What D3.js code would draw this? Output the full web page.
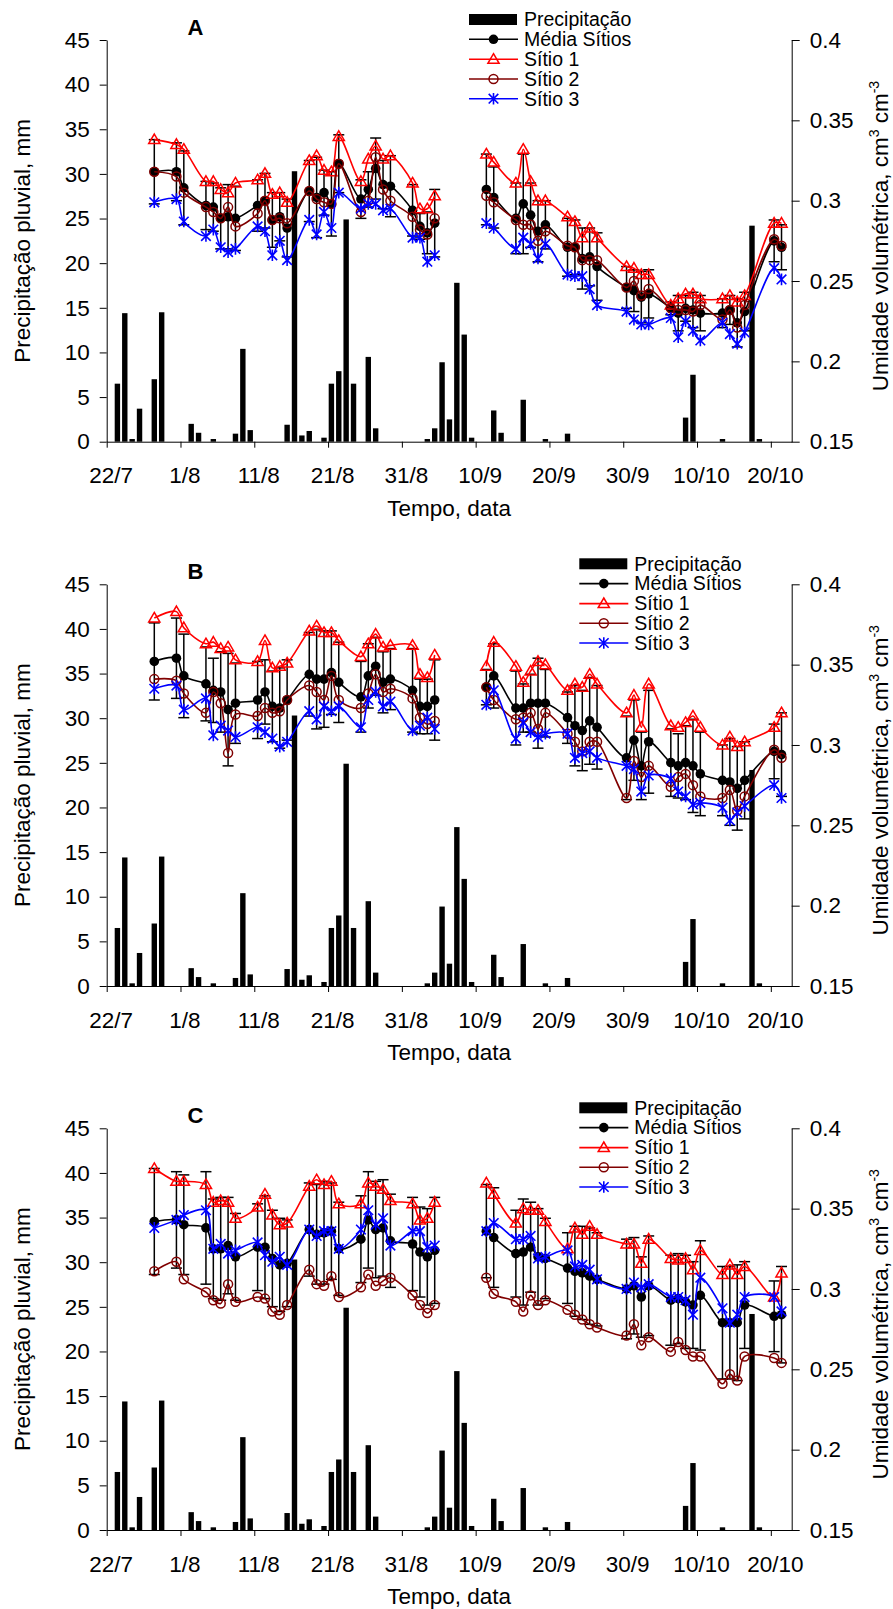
<!DOCTYPE html>
<html><head><meta charset="utf-8">
<script src="https://cdn.jsdelivr.net/npm/d3@7"></script>
<style>
body{margin:0;background:#fff}
svg{display:block}
text{font-family:"Liberation Sans",Arial,sans-serif;fill:#000}
</style>
</head><body>
<svg id="chart" width="893" height="1609"></svg>
<script>
// ---------------- DATA ----------------
const xTickLabels = ["22/7","1/8","11/8","21/8","31/8","10/9","20/9","30/9","10/10","20/10"];
const leftTicks = [0,5,10,15,20,25,30,35,40,45];
const rightTicks = [0.15,0.2,0.25,0.3,0.35,0.4];
const panelLetters = ["A","B","C"];
const legendLabels = ["Precipitação","Média Sítios","Sítio 1","Sítio 2","Sítio 3"];

const precipDates = ["23/7","24/7","25/7","26/7","28/7","29/7","2/8","3/8","5/8","8/8","9/8","10/8","15/8","16/8","17/8","18/8","20/8","21/8","22/8","23/8","24/8","26/8","27/8","3/9","4/9","5/9","6/9","7/9","8/9","9/9","12/9","13/9","16/9","19/9","22/9","8/10","9/10","13/10","17/10","18/10"];
const precipValues = [6.5,14.4,0.3,3.7,7.0,14.5,2.0,1.0,0.3,0.9,10.4,1.3,1.9,30.3,0.7,1.2,0.45,6.5,7.9,24.9,6.5,9.5,1.5,0.3,1.5,8.9,2.5,17.8,12.0,0.45,3.5,1.0,4.7,0.3,0.9,2.7,7.5,0.3,24.2,0.3];

const measDates = ["28/7","31/7","1/8","4/8","5/8","6/8","7/8","8/8","11/8","12/8","13/8","14/8","15/8","18/8","19/8","20/8","21/8","22/8","25/8","26/8","27/8","28/8","29/8","1/9","2/9","3/9","4/9",
"11/9","12/9","15/9","16/9","17/9","18/9","19/9","22/9","23/9","24/9","25/9","26/9","30/9","1/10","2/10","3/10","6/10","7/10","8/10","9/10","10/10","13/10","14/10","15/10","16/10","20/10","21/10"];

// Panel A
const mediaA = [0.318,0.318,0.308,0.297,0.296,0.289,0.290,0.289,0.297,0.300,0.288,0.290,0.283,0.306,0.302,0.305,0.298,0.323,0.301,0.307,0.320,0.310,0.309,0.294,0.284,0.280,0.286,
0.307,0.302,0.289,0.298,0.291,0.281,0.285,0.271,0.271,0.264,0.265,0.259,0.246,0.244,0.240,0.242,0.233,0.230,0.233,0.232,0.230,0.230,0.232,0.224,0.231,0.275,0.271];
const sdA = [0.020,0.018,0.023,0.015,0.015,0.019,0.020,0.020,0.016,0.017,0.017,0.015,0.018,0.019,0.025,0.014,0.020,0.018,0.012,0.011,0.019,0.015,0.019,0.016,0.008,0.013,0.021,
0.022,0.019,0.022,0.031,0.020,0.019,0.015,0.018,0.017,0.019,0.018,0.021,0.013,0.013,0.016,0.015,0.004,0.011,0.008,0.011,0.011,0.009,0.009,0.015,0.012,0.013,0.014];
const sitio1A = [0.338,0.335,0.332,0.312,0.312,0.307,0.305,0.311,0.313,0.317,0.304,0.305,0.299,0.325,0.328,0.319,0.318,0.340,0.312,0.326,0.334,0.326,0.328,0.311,0.295,0.295,0.303,
0.329,0.324,0.311,0.332,0.312,0.300,0.300,0.290,0.287,0.277,0.283,0.277,0.259,0.258,0.254,0.254,0.235,0.239,0.242,0.242,0.239,0.239,0.241,0.237,0.241,0.286,0.286];
const sitio2A = [0.318,0.315,0.305,0.296,0.293,0.289,0.296,0.284,0.292,0.300,0.288,0.289,0.286,0.306,0.301,0.299,0.298,0.323,0.293,0.300,0.327,0.307,0.300,0.290,0.282,0.279,0.289,
0.303,0.299,0.288,0.285,0.285,0.275,0.281,0.272,0.271,0.263,0.263,0.263,0.246,0.250,0.241,0.245,0.233,0.232,0.232,0.231,0.235,0.226,0.232,0.221,0.235,0.276,0.272];
const sitio3A = [0.299,0.301,0.287,0.278,0.282,0.271,0.268,0.270,0.284,0.281,0.266,0.275,0.263,0.288,0.279,0.293,0.283,0.305,0.295,0.298,0.298,0.294,0.295,0.277,0.277,0.262,0.266,
0.286,0.283,0.270,0.277,0.273,0.264,0.273,0.254,0.253,0.253,0.245,0.235,0.231,0.226,0.223,0.223,0.227,0.215,0.225,0.219,0.213,0.224,0.217,0.211,0.218,0.258,0.251];

// Panel B
const mediaB = [0.352,0.354,0.343,0.338,0.334,0.333,0.322,0.326,0.328,0.333,0.324,0.323,0.328,0.344,0.341,0.341,0.345,0.339,0.330,0.343,0.349,0.339,0.341,0.334,0.324,0.324,0.328,
0.336,0.343,0.323,0.323,0.326,0.326,0.326,0.317,0.312,0.309,0.315,0.311,0.292,0.303,0.287,0.302,0.289,0.287,0.289,0.287,0.282,0.278,0.277,0.273,0.278,0.296,0.294];
const sdB = [0.024,0.025,0.026,0.023,0.020,0.025,0.035,0.025,0.024,0.020,0.022,0.025,0.025,0.026,0.031,0.030,0.026,0.025,0.022,0.020,0.018,0.019,0.019,0.026,0.017,0.017,0.025,
0.011,0.020,0.023,0.015,0.018,0.028,0.021,0.016,0.025,0.025,0.027,0.026,0.026,0.025,0.021,0.032,0.021,0.020,0.023,0.029,0.026,0.022,0.027,0.026,0.024,0.017,0.026];
const sitio1B = [0.379,0.383,0.373,0.363,0.364,0.360,0.361,0.353,0.352,0.365,0.348,0.349,0.351,0.371,0.374,0.370,0.370,0.365,0.355,0.363,0.369,0.361,0.362,0.362,0.344,0.342,0.356,
0.349,0.364,0.349,0.339,0.346,0.352,0.350,0.334,0.338,0.336,0.344,0.338,0.320,0.331,0.311,0.338,0.312,0.311,0.314,0.318,0.311,0.300,0.305,0.299,0.302,0.311,0.320];
const sitio2B = [0.341,0.340,0.332,0.320,0.333,0.326,0.295,0.319,0.318,0.323,0.320,0.321,0.328,0.337,0.333,0.328,0.343,0.328,0.323,0.332,0.344,0.333,0.335,0.329,0.317,0.313,0.315,
0.336,0.328,0.316,0.317,0.320,0.310,0.320,0.307,0.302,0.296,0.302,0.302,0.267,0.290,0.280,0.287,0.274,0.280,0.282,0.275,0.268,0.267,0.272,0.259,0.268,0.297,0.292];
const sitio3B = [0.335,0.337,0.322,0.329,0.306,0.312,0.309,0.305,0.311,0.308,0.304,0.299,0.302,0.321,0.316,0.324,0.321,0.324,0.311,0.328,0.333,0.324,0.327,0.309,0.312,0.317,0.310,
0.325,0.334,0.304,0.314,0.308,0.305,0.307,0.307,0.292,0.295,0.296,0.292,0.287,0.285,0.271,0.281,0.279,0.271,0.268,0.263,0.264,0.261,0.253,0.258,0.262,0.275,0.267];

// Panel C
const mediaC = [0.342,0.343,0.340,0.338,0.325,0.325,0.327,0.320,0.326,0.326,0.319,0.315,0.316,0.337,0.334,0.335,0.336,0.325,0.331,0.343,0.337,0.338,0.330,0.328,0.323,0.320,0.324,
0.336,0.332,0.322,0.323,0.326,0.320,0.319,0.313,0.311,0.310,0.308,0.306,0.300,0.302,0.295,0.302,0.293,0.294,0.292,0.290,0.296,0.279,0.279,0.279,0.290,0.283,0.284];
const sdC = [0.033,0.030,0.031,0.035,0.031,0.032,0.030,0.027,0.027,0.032,0.030,0.029,0.027,0.029,0.031,0.032,0.030,0.029,0.027,0.030,0.030,0.030,0.029,0.029,0.028,0.030,0.033,
0.029,0.031,0.027,0.033,0.028,0.030,0.025,0.022,0.028,0.029,0.030,0.029,0.031,0.030,0.025,0.031,0.028,0.028,0.029,0.027,0.034,0.035,0.035,0.036,0.027,0.022,0.030];
const sitio1C = [0.375,0.367,0.367,0.365,0.354,0.355,0.354,0.344,0.351,0.359,0.346,0.340,0.341,0.364,0.368,0.365,0.367,0.353,0.353,0.366,0.364,0.362,0.355,0.353,0.343,0.344,0.354,
0.366,0.359,0.341,0.350,0.349,0.349,0.342,0.325,0.338,0.334,0.339,0.334,0.328,0.328,0.316,0.331,0.319,0.318,0.319,0.312,0.324,0.309,0.315,0.309,0.314,0.295,0.310];
const sitio2C = [0.311,0.317,0.306,0.298,0.293,0.291,0.303,0.292,0.295,0.294,0.286,0.284,0.290,0.312,0.303,0.302,0.308,0.295,0.301,0.309,0.302,0.305,0.307,0.296,0.290,0.285,0.290,
0.307,0.297,0.292,0.286,0.296,0.290,0.293,0.287,0.284,0.281,0.278,0.276,0.271,0.278,0.265,0.270,0.261,0.267,0.262,0.258,0.258,0.241,0.247,0.243,0.258,0.257,0.254];
const sitio3C = [0.338,0.343,0.346,0.349,0.325,0.328,0.322,0.324,0.329,0.321,0.317,0.320,0.315,0.337,0.333,0.336,0.336,0.325,0.337,0.349,0.340,0.344,0.327,0.336,0.336,0.326,0.327,
0.336,0.341,0.331,0.331,0.333,0.319,0.320,0.324,0.314,0.315,0.312,0.306,0.300,0.304,0.301,0.303,0.295,0.295,0.293,0.284,0.307,0.288,0.279,0.284,0.295,0.295,0.286];

// ---------------- HELPERS ----------------
const parseDM = s => { const [d, m] = s.split("/").map(Number); return new Date(2009, m - 1, d); };
const startDate = parseDM("22/7");
const dayOf = s => d3.timeDay.count(startDate, parseDM(s));
const OFF = 0.45;  // date-axis centring of columns and points

const svg = d3.select("#chart");
const FONT = '"Liberation Sans", Arial, sans-serif';
const PLOT_L = 106.7, PLOT_R = 791.7, PLOT_H = 401.7;
const x = d3.scaleLinear().domain([0, 92.83]).range([PLOT_L, PLOT_R]);

const COLORS = {media: "#000000", s1: "#FF0000", s2: "#800000", s3: "#0000FF"};

const precip = precipDates.map((d, i) => ({day: dayOf(d), v: precipValues[i]}));
const tickDays = xTickLabels.map(dayOf);

const panels = [
  {top: 40,    legendX: 469,   media: mediaA, sd: sdA, s1: sitio1A, s2: sitio2A, s3: sitio3A},
  {top: 584.3, legendX: 579.3, media: mediaB, sd: sdB, s1: sitio1B, s2: sitio2B, s3: sitio3B},
  {top: 1128.3,legendX: 579.3, media: mediaC, sd: sdC, s1: sitio1C, s2: sitio2C, s3: sitio3C}
];

function segments(vals) {
  const pts = measDates.map((d, i) => ({day: dayOf(d), v: vals[i]}));
  const segs = [[]];
  pts.forEach((p, i) => {
    if (i > 0 && p.day - pts[i - 1].day > 5) segs.push([]);
    segs[segs.length - 1].push(p);
  });
  return segs;
}

function drawMarker(g, type, cx, cy) {
  if (type === "media") {
    g.append("circle").attr("cx", cx).attr("cy", cy).attr("r", 4.8).attr("fill", COLORS.media);
  } else if (type === "s1") {
    g.append("path").attr("d", `M${cx},${cy-5.6}L${cx+5.6},${cy+4}L${cx-5.6},${cy+4}Z`)
      .attr("fill", "none").attr("stroke", COLORS.s1).attr("stroke-width", 1.5);
  } else if (type === "s2") {
    g.append("circle").attr("cx", cx).attr("cy", cy).attr("r", 4.5)
      .attr("fill", "none").attr("stroke", COLORS.s2).attr("stroke-width", 1.5);
  } else {
    g.append("path").attr("d", `M${cx},${cy-5.8}L${cx},${cy+5.8}M${cx-4.8},${cy-4.8}L${cx+4.8},${cy+4.8}M${cx-4.8},${cy+4.8}L${cx+4.8},${cy-4.8}`)
      .attr("fill", "none").attr("stroke", COLORS.s3).attr("stroke-width", 1.6);
  }
}

panels.forEach((p, pi) => {
  const top = p.top, bottom = top + PLOT_H;
  const yL = d3.scaleLinear().domain([0, 45]).range([bottom, top]);
  const yR = d3.scaleLinear().domain([0.15, 0.4]).range([bottom, top]);
  const g = svg.append("g");

  // columns
  g.append("g").selectAll("rect").data(precip).join("rect")
    .attr("x", d => x(d.day + OFF) - 2.7).attr("width", 5.4)
    .attr("y", d => yL(d.v)).attr("height", d => yL(0) - yL(d.v))
    .attr("fill", "#000");

  // axes
  const axL = g.append("g").attr("transform", `translate(${PLOT_L},0)`)
    .call(d3.axisLeft(yL).tickValues(leftTicks).tickSize(7).tickSizeOuter(0).tickPadding(10));
  const axR = g.append("g").attr("transform", `translate(${PLOT_R},0)`)
    .call(d3.axisRight(yR).tickValues(rightTicks).tickFormat(d => String(d)).tickSize(8).tickSizeOuter(0).tickPadding(10));
  const axB = g.append("g").attr("transform", `translate(0,${bottom})`)
    .call(d3.axisBottom(x).tickValues(tickDays).tickFormat((d, i) => xTickLabels[i]).tickSize(6).tickSizeOuter(0));
  [axL, axR, axB].forEach(a => {
    a.attr("font-family", FONT).attr("font-size", 22.5);
    a.selectAll("path.domain").attr("stroke", "#000").attr("stroke-width", 1);
    a.selectAll(".tick line").attr("stroke", "#000").attr("stroke-width", 1);
    a.selectAll("text").attr("fill", "#000");
  });
  axB.selectAll("text").attr("y", 41.6).attr("dy", 0).attr("dx", 4);

  // axis titles
  g.append("text").attr("x", (PLOT_L + PLOT_R) / 2).attr("y", bottom + 74.3)
    .attr("text-anchor", "middle").attr("font-size", 22.5).text("Tempo, data");
  g.append("text").attr("transform", `translate(30,${(top + bottom) / 2}) rotate(-90)`)
    .attr("text-anchor", "middle").attr("font-size", 22.5).text("Precipitação pluvial, mm");
  const rt = g.append("text").attr("transform", `translate(888,${top + 196}) rotate(-90)`)
    .attr("text-anchor", "middle").attr("font-size", 22.5);
  rt.append("tspan").text("Umidade volumétrica, cm");
  rt.append("tspan").attr("dy", -9).attr("font-size", 14).text("3");
  rt.append("tspan").attr("dy", 9).text(" cm");
  rt.append("tspan").attr("dy", -9).attr("font-size", 14).text("-3");

  // panel letter
  g.append("text").attr("x", 195.5).attr("y", top - 5.5).attr("text-anchor", "middle")
    .attr("font-size", 22).attr("font-weight", "bold").text(panelLetters[pi]);

  const lineGen = d3.line().x(d => x(d.day + OFF)).y(d => yR(d.v)).curve(d3.curveCatmullRom.alpha(0.5));

  // error bars (mean ± sd)
  const eb = g.append("g").attr("stroke", "#000").attr("stroke-width", 1.5);
  measDates.forEach((d, i) => {
    const cx = x(dayOf(d) + OFF);
    const y1 = yR(p.media[i] + p.sd[i]), y2 = yR(p.media[i] - p.sd[i]);
    eb.append("line").attr("x1", cx).attr("x2", cx).attr("y1", y1).attr("y2", y2);
    eb.append("line").attr("x1", cx - 5.5).attr("x2", cx + 5.5).attr("y1", y1).attr("y2", y1);
    eb.append("line").attr("x1", cx - 5.5).attr("x2", cx + 5.5).attr("y1", y2).attr("y2", y2);
  });

  // series
  [["media", p.media], ["s1", p.s1], ["s2", p.s2], ["s3", p.s3]].forEach(([key, vals]) => {
    const sg = g.append("g");
    segments(vals).forEach(seg => {
      sg.append("path").attr("d", lineGen(seg)).attr("fill", "none")
        .attr("stroke", COLORS[key]).attr("stroke-width", 1.6);
    });
    measDates.forEach((d, i) => drawMarker(sg, key, x(dayOf(d) + OFF), yR(vals[i])));
  });

  // legend
  const lx = p.legendX;
  const rows = [-20.5, -0.7, 19.3, 39, 58.7];
  const lg = g.append("g");
  lg.append("rect").attr("x", lx).attr("y", top + rows[0] - 5.5).attr("width", 48).attr("height", 11).attr("fill", "#000");
  ["media", "s1", "s2", "s3"].forEach((key, k) => {
    const yy = top + rows[k + 1];
    lg.append("line").attr("x1", lx).attr("x2", lx + 49).attr("y1", yy).attr("y2", yy)
      .attr("stroke", COLORS[key]).attr("stroke-width", 1.6);
    drawMarker(lg, key, lx + 24.5, yy);
  });
  legendLabels.forEach((t, k) => {
    lg.append("text").attr("x", lx + 55).attr("y", top + rows[k]).attr("dy", "0.35em")
      .attr("font-size", 19.5).text(t);
  });
});
</script>
</body></html>
